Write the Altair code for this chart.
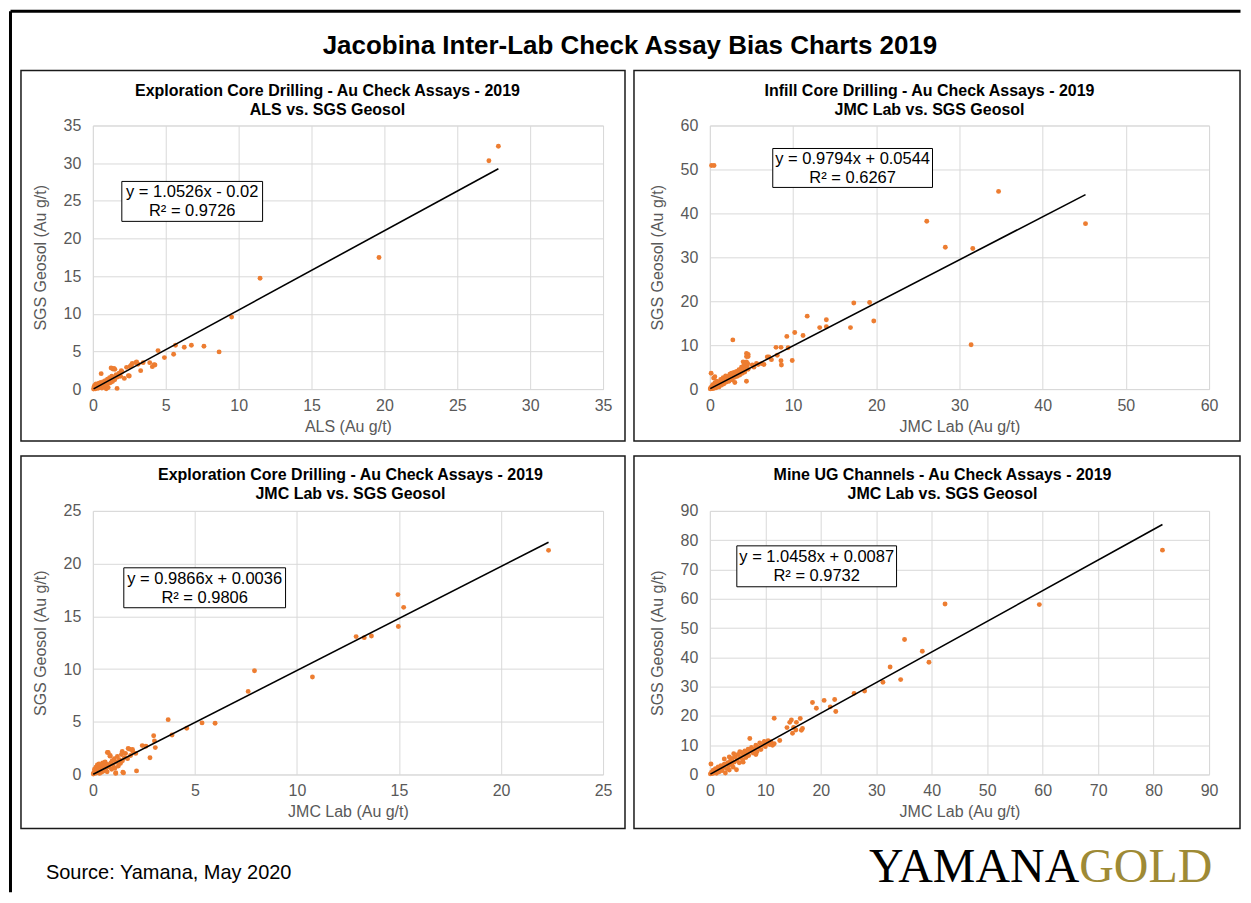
import altair as alt
import pandas as pd

FONT = "Liberation Sans"
ORANGE = "#ED7D31"
GRID = "#D9D9D9"
AXIS_TXT = "#595959"

# ---------------- data ----------------
# Panel 1: Exploration core drilling, ALS vs SGS Geosol
P1_ALS = [27.82, 27.17, 19.63, 11.47, 9.52, 5.67, 4.47, 6.76, 6.27, 7.62, 8.66, 5.54, 4.91, 3.90, 4.26,
          4.08, 3.28, 2.94, 2.65, 2.31, 2.44, 1.95, 2.16, 1.38, 1.51, 1.66, 0.57, 3.45, 2.50, 4.20,
          0.05, 0.08, 0.10, 0.12, 0.15, 0.18, 0.20, 0.22, 0.25, 0.28, 0.30, 0.33, 0.36, 0.40, 0.42,
          0.45, 0.50, 0.52, 0.55, 0.60, 0.62, 0.65, 0.70, 0.72, 0.75, 0.80, 0.82, 0.85, 0.90, 0.92,
          0.95, 1.00, 1.02, 1.05, 1.10, 1.15, 1.20, 1.25, 1.30, 1.35, 1.40, 1.50, 1.60, 1.70, 1.80,
          1.90, 2.00, 1.25, 1.45, 2.70, 3.00, 3.10, 2.55]
P1_SGS = [32.24, 30.33, 17.47, 14.72, 9.56, 5.82, 5.11, 5.82, 5.56, 5.69, 4.94, 4.62, 4.18, 3.51, 3.20,
          2.98, 2.45, 3.51, 3.20, 2.89, 1.78, 2.45, 1.42, 2.67, 2.62, 0.09, 2.05, 3.51, 1.74, 3.25,
          0.02, 0.30, 0.10, 0.50, 0.20, 0.05, 0.35, 0.70, 0.15, 0.45, 0.25, 0.60, 0.10, 0.40, 0.80,
          0.20, 0.55, 0.30, 0.90, 0.45, 0.15, 0.70, 0.35, 1.00, 0.55, 0.25, 0.80, 1.10, 0.50, 0.05,
          0.90, 1.30, 0.70, 0.20, 1.05, 1.50, 0.85, 1.20, 1.70, 1.00, 1.45, 1.25, 1.90, 1.60, 2.10,
          1.70, 2.30, 2.80, 2.75, 3.40, 3.60, 3.30, 3.00]

# Panel 2: Infill core drilling, JMC Lab vs SGS Geosol
P2_JMC = [0.20, 0.50, 34.7, 26.07, 45.15, 28.3, 31.6, 31.4, 17.3, 19.2, 19.7, 16.9, 11.7, 14.0, 14.0,
          13.2, 11.2, 10.2, 9.25, 9.9, 9.4, 8.55, 7.95, 8.1, 8.55, 8.6, 6.9, 6.2, 5.6, 2.76,
          4.4, 4.4, 4.4, 4.0, 4.6, 4.6, 5.8, 6.5, 7.1, 7.4,
          0.05, 0.10, 0.15, 0.20, 0.25, 0.30, 0.35, 0.40, 0.45, 0.50, 0.55, 0.60, 0.65, 0.70, 0.75,
          0.80, 0.90, 1.00, 1.10, 1.20, 1.30, 1.40, 1.50, 1.60, 1.70, 1.80, 1.90, 2.00, 2.10, 2.20,
          2.30, 2.40, 2.50, 2.60, 2.70, 2.80, 2.90, 3.00, 3.10, 3.20, 3.30, 3.40, 3.50, 3.60, 3.70,
          3.80, 3.90, 4.00, 4.10, 4.20, 4.30, 4.40, 4.50, 3.00, 4.55, 4.60, 5.30, 5.10, 0.60]
P2_SGS = [50.9, 50.9, 45.0, 38.2, 37.66, 32.3, 32.0, 10.1, 19.6, 19.7, 15.5, 14.0, 16.6, 15.8, 14.2,
          14.0, 12.2, 12.9, 12.0, 6.5, 9.4, 9.5, 9.5, 7.7, 6.45, 5.5, 7.3, 5.8, 5.85, 11.2,
          8.1, 7.4, 1.8, 6.2, 7.9, 7.4, 5.6, 5.6, 7.3, 6.7,
          0.05, 0.30, 3.60, 0.15, 0.60, 0.10, 1.00, 0.40, 2.50, 0.20, 0.80, 1.40, 0.50, 1.10, 0.30,
          1.80, 0.70, 1.20, 0.50, 1.60, 2.20, 0.90, 1.50, 2.60, 1.20, 1.90, 3.00, 1.60, 2.30, 2.90,
          1.80, 3.40, 2.50, 3.60, 2.10, 3.00, 3.80, 2.70, 3.30, 4.00, 2.90, 3.60, 4.40, 3.20, 4.00,
          5.00, 3.60, 4.60, 5.50, 3.90, 4.90, 6.20, 5.30, 1.50, 5.80, 4.50, 5.00, 5.50, 2.80]

# Panel 3: Exploration core drilling, JMC Lab vs SGS Geosol
P3_JMC = [22.33, 14.95, 15.23, 14.97, 12.9, 13.3, 13.65, 10.76, 7.92, 7.61, 3.69, 5.35, 5.99, 4.6, 3.88,
          2.98, 3.02, 3.06, 2.8, 2.42, 2.6, 2.14, 1.94, 1.73, 1.44, 1.47, 1.12, 0.71, 0.84,
          0.02, 0.05, 0.08, 0.10, 0.12, 0.15, 0.18, 0.20, 0.22, 0.25, 0.28, 0.30, 0.33, 0.36, 0.40,
          0.42, 0.45, 0.48, 0.50, 0.55, 0.58, 0.60, 0.65, 0.70, 0.72, 0.75, 0.80, 0.85, 0.88, 0.92,
          0.95, 1.00, 1.05, 1.08, 1.12, 1.15, 1.20, 1.25, 1.30, 1.35, 1.40, 1.45, 1.50, 1.55, 1.60,
          1.70, 1.80, 1.85, 1.95, 2.10]
P3_SGS = [21.26, 17.06, 15.85, 14.04, 13.08, 12.98, 13.14, 9.25, 9.84, 7.88, 5.2, 4.89, 4.86, 4.39, 3.74,
          3.67, 3.18, 2.55, 1.59, 2.74, 2.68, 0.34, 2.37, 2.46, 2.18, 0.22, 0.16, 2.09, 1.74,
          0.05, 0.20, 0.50, 0.10, 0.35, 0.70, 0.15, 0.45, 0.90, 0.25, 0.60, 1.00, 0.10, 0.40, 0.75,
          0.20, 0.55, 1.10, 0.30, 0.80, 0.45, 1.20, 0.60, 0.25, 0.95, 2.10, 0.70, 1.80, 1.10, 0.50,
          1.30, 0.90, 1.50, 0.60, 0.10, 1.20, 1.70, 0.80, 1.40, 1.05, 1.90, 1.30, 0.15, 1.60, 2.00,
          1.50, 2.40, 1.80, 2.20, 2.00]

# Panel 4: Mine UG channels, JMC Lab vs SGS Geosol
P4_JMC = [81.6, 59.4, 42.4, 35.1, 38.3, 39.5, 32.5, 34.4, 31.2, 27.9, 26.0, 22.5, 20.6, 18.5, 19.2,
          21.7, 22.7, 11.6, 16.3, 14.7, 14.4, 15.6, 13.9, 15.1, 15.5, 16.7, 16.5, 14.9, 12.6, 7.2,
          0.1, 0.2, 0.3, 0.5, 0.6, 0.8, 1.0, 1.2, 1.3, 1.5, 1.7, 1.9, 2.0, 2.2, 2.4,
          2.6, 2.8, 3.0, 3.2, 3.4, 3.5, 3.7, 3.9, 4.0, 4.2, 4.4, 4.6, 4.8, 4.9, 5.1,
          5.3, 5.5, 5.7, 5.9, 6.1, 6.3, 6.5, 6.7, 6.9, 7.0, 7.3, 7.5, 7.8, 8.0, 8.3,
          8.5, 8.7, 9.0, 9.2, 9.5, 9.8, 10.0, 10.3, 10.5, 10.8, 11.0, 11.3, 11.6, 3.5, 2.6,
          4.3, 5.4, 6.0, 8.3]
P4_SGS = [76.6, 58.0, 58.2, 46.1, 42.1, 38.3, 36.7, 32.4, 31.5, 28.5, 27.7, 25.6, 25.3, 24.6, 22.6,
          23.1, 21.5, 19.2, 19.1, 18.6, 17.8, 17.8, 16.0, 16.1, 15.2, 15.7, 15.1, 14.1, 11.6, 12.3,
          0.2, 3.6, 0.8, 0.3, 1.5, 0.6, 2.0, 0.4, 1.2, 2.6, 0.9, 1.8, 3.0, 1.3, 2.4,
          3.5, 0.5, 2.0, 4.0, 3.0, 1.5, 4.6, 3.5, 5.5, 2.5, 4.2, 6.0, 1.6, 5.0, 6.8,
          4.0, 5.8, 7.5, 5.0, 6.6, 8.0, 5.8, 7.2, 8.6, 6.5, 8.0, 9.2, 7.3, 8.7, 10.0,
          7.8, 9.3, 10.8, 8.5, 10.0, 11.3, 9.5, 10.6, 11.5, 10.2, 11.2, 10.0, 10.5, 6.0, 5.3,
          7.1, 7.8, 4.2, 6.8]

# regression lines (from chart labels)
SLOPES = [1.0526, 0.9794, 0.9866, 1.0458]
INTERCEPTS = [-0.02, 0.0544, 0.0036, 0.0087]
EQ_TEXTS = ["y = 1.0526x - 0.02\nR² = 0.9726",
            "y = 0.9794x + 0.0544\nR² = 0.6267",
            "y = 0.9866x + 0.0036\nR² = 0.9806",
            "y = 1.0458x + 0.0087\nR² = 0.9732"]
TITLES = ["Exploration Core Drilling - Au Check Assays - 2019\nALS vs. SGS Geosol",
          "Infill Core Drilling - Au Check Assays - 2019\nJMC Lab vs. SGS Geosol",
          "Exploration Core Drilling - Au Check Assays - 2019\nJMC Lab vs. SGS Geosol",
          "Mine UG Channels - Au Check Assays - 2019\nJMC Lab vs. SGS Geosol"]
X_TITLES = ["ALS (Au g/t)", "JMC Lab (Au g/t)", "JMC Lab (Au g/t)", "JMC Lab (Au g/t)"]
Y_TITLE = "SGS Geosol (Au g/t)"
P1_TICKS = [0, 5, 10, 15, 20, 25, 30, 35]
P2_TICKS = [0, 10, 20, 30, 40, 50, 60]
P3_TICKS = [0, 5, 10, 15, 20, 25]
P4_TICKS = [0, 10, 20, 30, 40, 50, 60, 70, 80, 90]

MAIN_TITLE = "Jacobina Inter-Lab Check Assay Bias Charts 2019"
SOURCE = "Source: Yamana, May 2020"
LOGO_A = "YAMANA"
LOGO_B = "GOLD"

ONE = pd.DataFrame({"k": [0]})


def panel(xs, ys, ticks, idx, frame, title_pos, eq_box, eq_pos):
    df = pd.DataFrame({"x": xs, "y": ys})
    m, b = SLOPES[idx], INTERCEPTS[idx]
    xlo, xhi = min(xs), max(xs)
    trend = pd.DataFrame({"x": [xlo, xhi], "y": [m * xlo + b, m * xhi + b]})
    dom = [ticks[0], ticks[-1]]

    def xenc():
        return alt.X("x:Q", scale=alt.Scale(domain=dom, nice=False, zero=True),
                     axis=alt.Axis(values=ticks, title=X_TITLES[idx], tickCount=len(ticks)))

    def yenc():
        return alt.Y("y:Q", scale=alt.Scale(domain=dom, nice=False, zero=True),
                     axis=alt.Axis(values=ticks, title=Y_TITLE, tickCount=len(ticks)))

    pts = alt.Chart(df).mark_circle(size=24, color=ORANGE, opacity=1).encode(x=xenc(), y=yenc())
    line = alt.Chart(trend).mark_line(color="black", strokeWidth=1.6).encode(x=xenc(), y=yenc())
    fr = alt.Chart(ONE).mark_rect(fill="transparent", stroke="#1a1a1a", strokeWidth=1.5).encode(
        x=alt.value(frame[0]), x2=alt.value(frame[1]), y=alt.value(frame[2]), y2=alt.value(frame[3]))
    ttl = alt.Chart(ONE).mark_text(font=FONT, fontSize=16, fontWeight="bold", color="black",
                                   lineBreak="\n", lineHeight=19, align="center", baseline="middle",
                                   text=TITLES[idx]).encode(x=alt.value(title_pos[0]), y=alt.value(title_pos[1]))
    box = alt.Chart(ONE).mark_rect(fill="white", stroke="black", strokeWidth=1).encode(
        x=alt.value(eq_box[0]), x2=alt.value(eq_box[1]), y=alt.value(eq_box[2]), y2=alt.value(eq_box[3]))
    eq = alt.Chart(ONE).mark_text(font=FONT, fontSize=16.5, color="black", lineBreak="\n", lineHeight=19,
                                  align="center", baseline="middle", text=EQ_TEXTS[idx]).encode(
        x=alt.value(eq_pos[0]), y=alt.value(eq_pos[1]))
    return [pts, line, fr, ttl, box, eq]


W1, W2, H = 511, 500, 264

l1 = panel(P1_ALS, P1_SGS, P1_TICKS, 0, (-72, 533, -55, 316), (235, -35), (29, 170, 56, 96), (99.5, 67))
l2 = panel(P2_JMC, P2_SGS, P2_TICKS, 1, (-76, 531, -55, 316), (220, -35), (63, 223, 23, 62), (143, 34))
l3 = panel(P3_JMC, P3_SGS, P3_TICKS, 2, (-72, 533, -55, 318), (258, -36), (31, 193, 57, 97), (112, 68))
l4 = panel(P4_JMC, P4_SGS, P4_TICKS, 3, (-76, 531, -55, 318), (233, -36), (27, 187, 35, 76), (107, 46))

# page decorations (outer frame, main title) attached to panel 1
outer_top = alt.Chart(ONE).mark_rule(color="black", strokeWidth=3).encode(
    x=alt.value(-82.5), x2=alt.value(1149.5), y=alt.value(-114.5))
outer_left = alt.Chart(ONE).mark_rule(color="black", strokeWidth=3).encode(
    x=alt.value(-82.5), y=alt.value(-114.5), y2=alt.value(768))
main_title = alt.Chart(ONE).mark_text(font=FONT, fontSize=26, fontWeight="bold", color="black",
                                      align="center", baseline="middle", text=MAIN_TITLE).encode(
    x=alt.value(538), y=alt.value(-80))
source = alt.Chart(ONE).mark_text(font=FONT, fontSize=20, color="black", align="left",
                                  baseline="middle", text=SOURCE).encode(x=alt.value(-47), y=alt.value(363))
logo_a = alt.Chart(ONE).mark_text(font="Liberation Serif", fontSize=48, color="black", align="right",
                                  baseline="alphabetic", text=LOGO_A).encode(x=alt.value(370), y=alt.value(372))
logo_b = alt.Chart(ONE).mark_text(font="Liberation Serif", fontSize=48, color="#9E8A35", align="left",
                                  baseline="alphabetic", text=LOGO_B).encode(x=alt.value(370), y=alt.value(372))

c1 = alt.layer(*l1, outer_top, outer_left, main_title).properties(width=W1, height=H)
c2 = alt.layer(*l2).properties(width=W2, height=H)
c3 = alt.layer(*l3, source).properties(width=W1, height=H)
c4 = alt.layer(*l4, logo_a, logo_b).properties(width=W2, height=H)

chart = alt.concat(c1, c2, c3, c4, columns=2, spacing={"row": 122, "column": 107}, bounds="flush").properties(
    padding=0, background="white"
).configure_view(stroke=GRID, strokeWidth=1).configure_axis(
    labelFont=FONT, labelFontSize=16, labelColor=AXIS_TXT, titleFont=FONT, titleFontSize=16,
    titleFontWeight="normal", titleColor=AXIS_TXT, gridColor=GRID, gridWidth=1, domain=False,
    ticks=False, labelFlush=False, labelOverlap=False
).configure_axisX(labelPadding=8, titlePadding=5).configure_axisY(labelPadding=12, titlePadding=15)

chart.save("out.html", embed_options={"renderer": "svg", "actions": False})
